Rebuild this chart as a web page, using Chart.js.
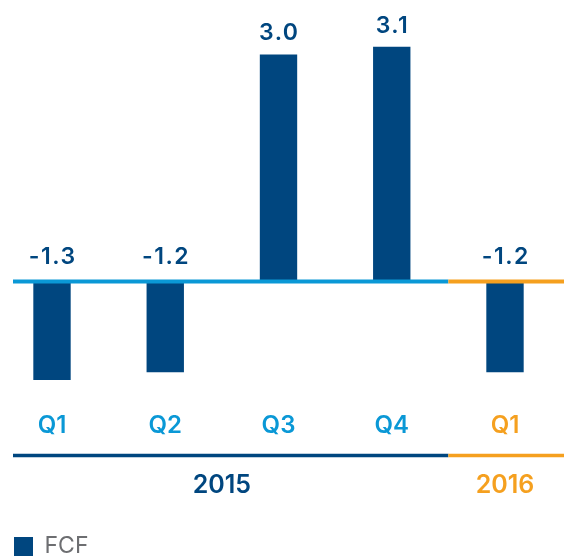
<!DOCTYPE html>
<html>
<head>
<meta charset="utf-8">
<script src="https://cdn.jsdelivr.net/npm/chart.js@4.4.1/dist/chart.umd.min.js"></script>
<style>
  html, body { margin: 0; padding: 0; background: #ffffff; overflow: hidden; }
  #chart-box { position: relative; width: 564px; height: 568px; }
</style>
</head>
<body>
<div id="chart-box"><canvas id="fcf_chart"></canvas></div>
<script>
// 데이터
const quarters = ['Q1', 'Q2', 'Q3', 'Q4', 'Q1'];
const quarterYears = ['2015', '2015', '2015', '2015', '2016'];
const fcfValues = [-1.3, -1.2, 3.0, 3.1, -1.2];
const years = ['2015', '2016'];
const seriesName = 'FCF';

// 색상
const NAVY = '#00467f';
const LIGHT_BLUE = '#0a98d6';
const ORANGE = '#f5a01f';
const GREY = '#6d6e71';
const lastYear = years[years.length - 1];

// 연도별 가운데 위치 (분기 인덱스의 평균)
const yearCenters = years.map(yr => {
	const idx = quarterYears.map((q, i) => q === yr ? i : -1).filter(i => i >= 0);
	return idx.reduce((a, b) => a + b, 0) / idx.length;
});

// 0 기준선, 연도 구분선, 막대 위 숫자
const decoPlugin = {
	id: 'deco',
	afterDatasetsDraw(chart) {
		const ctx = chart.ctx;
		const x = chart.scales.x;
		const y = chart.scales.y;
		const startX = 13;
		const endX = chart.width;
		const firstNew = quarterYears.indexOf(lastYear);
		const splitX = (x.getPixelForTick(firstNew - 1) + x.getPixelForTick(firstNew)) / 2;
		const zeroY = y.getPixelForValue(0);

		ctx.save();
		// 0 기준선
		ctx.lineWidth = 4;
		ctx.strokeStyle = LIGHT_BLUE;
		ctx.beginPath(); ctx.moveTo(startX, zeroY); ctx.lineTo(splitX, zeroY); ctx.stroke();
		ctx.strokeStyle = ORANGE;
		ctx.beginPath(); ctx.moveTo(splitX, zeroY); ctx.lineTo(endX, zeroY); ctx.stroke();

		// 분기 라벨 아래 구분선
		const lineY = x.bottom + 14;
		ctx.lineWidth = 3.5;
		ctx.strokeStyle = NAVY;
		ctx.beginPath(); ctx.moveTo(startX, lineY); ctx.lineTo(splitX, lineY); ctx.stroke();
		ctx.strokeStyle = ORANGE;
		ctx.beginPath(); ctx.moveTo(splitX, lineY); ctx.lineTo(endX, lineY); ctx.stroke();

		// 막대 값 라벨
		const spacing = 1.5;
		ctx.font = '600 23px Inter, "DejaVu Sans", sans-serif';
		ctx.letterSpacing = spacing + 'px';
		ctx.fillStyle = NAVY;
		ctx.textAlign = 'center';
		ctx.textBaseline = 'alphabetic';
		chart.getDatasetMeta(0).data.forEach((bar, i) => {
			const v = fcfValues[i];
			const ty = v >= 0 ? bar.y - 14 : zeroY - 17;
			ctx.fillText(v.toFixed(1), bar.x + spacing / 2, ty);
		});
		ctx.restore();
	}
};

const fcf_ctx = document.getElementById('fcf_chart').getContext('2d');
Chart.defaults.font.family = 'Inter, "DejaVu Sans", sans-serif';

const fcf_chart = new Chart(fcf_ctx, {
	type: 'bar',
	data: {
		labels: quarters,
		datasets: [{
			label: seriesName,
			data: fcfValues,
			backgroundColor: NAVY,
			borderWidth: 0,
			barPercentage: 0.33,
			categoryPercentage: 1.0,
			clip: false
		}]
	},
	options: {
		responsive: true,
		maintainAspectRatio: false,
		animation: false,
		layout: { padding: { top: 9, right: 59, bottom: 0, left: 0 } },
		scales: {
			x: {
				type: 'category',
				position: 'bottom',
				weight: 0,
				offset: false,
				grid: { display: false, drawTicks: false },
				border: { display: false },
				ticks: {
					padding: 9,
					autoSkip: false,
					maxRotation: 0,
					font: { size: 24, weight: '600', lineHeight: 1.2 },
					color: (c) => quarterYears[c.index] === lastYear ? ORANGE : LIGHT_BLUE
				},
				afterFit: (scale) => { scale.height = 39; }
			},
			x2: {
				type: 'linear',
				position: 'bottom',
				weight: 1,
				offset: false,
				min: 0,
				max: quarters.length - 1,
				grid: { display: false, drawTicks: false },
				border: { display: false },
				afterBuildTicks: (scale) => {
					scale.ticks = yearCenters.map(v => ({ value: v }));
				},
				ticks: {
					padding: 29,
					autoSkip: false,
					maxRotation: 0,
					font: { size: 25, weight: '600', lineHeight: 1.2 },
					color: (c) => years[c.index] === lastYear ? ORANGE : NAVY,
					callback: (value, index) => years[index]
				},
				afterFit: (scale) => { scale.height = 79.4; }
			},
			y: {
				display: true,
				min: -1.6,
				max: 3.6,
				grid: { display: false, drawTicks: false },
				border: { display: false },
				ticks: { display: false },
				afterFit: (scale) => { scale.width = 52; }
			}
		},
		plugins: {
			legend: {
				display: true,
				position: 'bottom',
				align: 'start',
				labels: {
					boxWidth: 19,
					boxHeight: 19,
					padding: 14,
					color: GREY,
					font: { size: 23, weight: '400' }
				}
			},
			tooltip: { enabled: false }
		}
	},
	plugins: [decoPlugin]
});
</script>
</body>
</html>
